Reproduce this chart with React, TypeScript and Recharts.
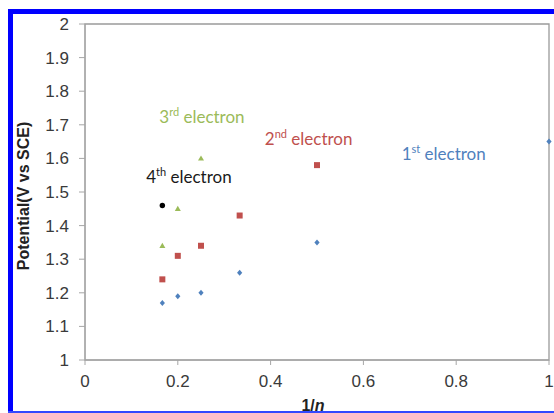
import React from 'react';
import { ScatterChart, Scatter, XAxis, YAxis, ReferenceArea, ReferenceDot } from 'recharts';

const firstElectronX = [0.1667, 0.2, 0.25, 0.3333, 0.5, 1];
const firstElectronY = [1.17, 1.19, 1.2, 1.26, 1.35, 1.65];
const secondElectronX = [0.1667, 0.2, 0.25, 0.3333, 0.5];
const secondElectronY = [1.24, 1.31, 1.34, 1.43, 1.58];
const thirdElectronX = [0.1667, 0.2, 0.25];
const thirdElectronY = [1.34, 1.45, 1.6];
const fourthElectronX = [0.1667];
const fourthElectronY = [1.46];

const xTicks = [0, 0.2, 0.4, 0.6, 0.8, 1];
const yTicks = [1, 1.1, 1.2, 1.3, 1.4, 1.5, 1.6, 1.7, 1.8, 1.9, 2];

const annotationNumbers = ['1', '2', '3', '4'];
const annotationSups = ['st', 'nd', 'rd', 'th'];
const annotationX = [0.773, 0.482, 0.252, 0.224];
const annotationY = [1.613, 1.658, 1.723, 1.545];
const annotationColors = ['#4F81BD', '#C0504D', '#9BBB59', '#1a1a1a'];

const toPoints = (xs: number[], ys: number[]) => xs.map((x, i) => ({ x, y: ys[i] }));

const Diamond = (p: any) => (
  <polygon points={`${p.cx},${p.cy - 3} ${p.cx + 2.6},${p.cy} ${p.cx},${p.cy + 3} ${p.cx - 2.6},${p.cy}`} fill="#4F81BD" />
);
const Square = (p: any) => <rect x={p.cx - 3} y={p.cy - 3} width={6} height={6} fill="#C0504D" />;
const Triangle = (p: any) => (
  <polygon points={`${p.cx},${p.cy - 3} ${p.cx + 3},${p.cy + 2.2} ${p.cx - 3},${p.cy + 2.2}`} fill="#9BBB59" />
);
const Dot = (p: any) => <circle cx={p.cx} cy={p.cy} r={2.7} fill="#000000" />;

const tickStyle = { fontFamily: '"Liberation Sans", Arial, sans-serif', fontSize: 17, fill: '#3a3a3a' };

export default function App() {
  return (
    <div style={{ position: 'absolute', left: 0, top: 0, width: 554, height: 413, overflow: 'hidden', background: '#fff' }}>
      <ScatterChart width={554} height={413} margin={{ top: 24, right: 5, bottom: 0, left: 0 }}>
        <XAxis
          type="number"
          dataKey="x"
          domain={[0, 1]}
          ticks={xTicks}
          tickFormatter={(v: number) => String(v)}
          height={53}
          stroke="#A6A6A6"
          tickSize={5}
          tickMargin={10}
          tick={tickStyle}
          label={{
            content: (props: any) => {
              const vb = props.viewBox;
              return (
                <text
                  x={vb.x + vb.width / 2 - 4}
                  y={411}
                  textAnchor="middle"
                  style={{ fontFamily: '"Liberation Sans", Arial, sans-serif', fontSize: 16, fontWeight: 'bold', fill: '#222' }}
                >
                  <tspan>1/</tspan>
                  <tspan fontStyle="italic">n</tspan>
                </text>
              );
            },
          }}
        />
        <YAxis
          type="number"
          dataKey="y"
          domain={[1, 2]}
          ticks={yTicks}
          tickFormatter={(v: number) => String(v)}
          width={85}
          stroke="#A6A6A6"
          tickSize={6}
          tickMargin={10}
          tick={tickStyle}
          label={{
            content: (props: any) => {
              const vb = props.viewBox;
              const cy = vb.y + vb.height / 2 + 4;
              return (
                <text
                  x={29}
                  y={cy}
                  textAnchor="middle"
                  transform={`rotate(-90, 29, ${cy})`}
                  style={{ fontFamily: '"Liberation Sans", Arial, sans-serif', fontSize: 16, fontWeight: 'bold', fill: '#222' }}
                >
                  Potential(V vs SCE)
                </text>
              );
            },
          }}
        />
        <ReferenceArea x1={0} x2={1} y1={1} y2={2} fill="none" stroke="#9A9A9A" strokeWidth={1.3} />
        <Scatter data={toPoints(firstElectronX, firstElectronY)} shape={Diamond} isAnimationActive={false} />
        <Scatter data={toPoints(secondElectronX, secondElectronY)} shape={Square} isAnimationActive={false} />
        <Scatter data={toPoints(thirdElectronX, thirdElectronY)} shape={Triangle} isAnimationActive={false} />
        <Scatter data={toPoints(fourthElectronX, fourthElectronY)} shape={Dot} isAnimationActive={false} />
        {annotationNumbers.map((num, i) => (
          <ReferenceDot
            key={num}
            x={annotationX[i]}
            y={annotationY[i]}
            r={0}
            fill="none"
            stroke="none"
            label={{
              content: (props: any) => {
                const vb = props.viewBox;
                const cx = vb.x + (vb.width || 0) / 2;
                const cy = vb.y + (vb.height || 0) / 2;
                return (
                  <text
                    x={cx}
                    y={cy + 6}
                    textAnchor="middle"
                    style={{ fontFamily: 'Lato, "Open Sans", sans-serif', fontSize: 17, fill: annotationColors[i] }}
                  >
                    <tspan>{num}</tspan>
                    <tspan fontSize={11} dy={-7}>{annotationSups[i]}</tspan>
                    <tspan dy={7}> electron</tspan>
                  </text>
                );
              },
            }}
          />
        ))}
      </ScatterChart>
      <div style={{ position: 'absolute', left: 8, top: 9, width: 546, height: 5, background: '#0000FF' }} />
      <div style={{ position: 'absolute', left: 8, top: 9, width: 5, height: 404, background: '#0000FF' }} />
      <div style={{ position: 'absolute', left: 8, top: 411, width: 546, height: 2, background: '#3348FF' }} />
    </div>
  );
}
